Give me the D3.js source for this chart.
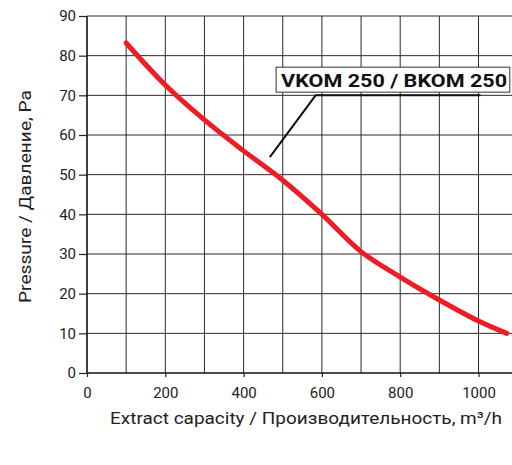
<!DOCTYPE html>
<html>
<head>
<meta charset="utf-8">
<script src="https://cdn.jsdelivr.net/npm/d3@7"></script>
<style>
  body { margin: 0; background: #fff; }
  svg text { font-family: Roboto, "Liberation Sans", Arial, sans-serif; }
</style>
</head>
<body>
<svg id="chart" width="512" height="465"></svg>
<script>
// data
var flow = [100, 200, 300, 400, 500, 600, 700, 800, 900, 1000, 1072];
var pressure = [83.2, 72.6, 63.8, 56, 48.6, 40, 30.6, 24.2, 18.4, 13.1, 10];
var xTicks = [0, 200, 400, 600, 800, 1000];
var yTicks = [0, 10, 20, 30, 40, 50, 60, 70, 80, 90];
var xGrid = [100, 200, 300, 400, 500, 600, 700, 800, 900, 1000];
var yGrid = [10, 20, 30, 40, 50, 60, 70, 80, 90];
var seriesName = "VKOM 250 / BKOM 250";
// leader line and label box, in data units
var leader = [[467, 54.4], [584, 70], [1005, 70]];
var labelBox = {x0: 483, x1: 1080, y0: 77.1, y1: 70.8};

var W = 512, H = 465;
var font = "Roboto, 'Liberation Sans', Arial, sans-serif";
var svg = d3.select("#chart");

var x = d3.scaleLinear().domain([0, 1000]).range([87, 478.5]);
var y = d3.scaleLinear().domain([0, 90]).range([373, 16]);

// grid
svg.append("g")
    .selectAll("line")
    .data(xGrid)
    .join("line")
    .attr("x1", d => x(d)).attr("x2", d => x(d))
    .attr("y1", y(0)).attr("y2", y(90))
    .attr("stroke", "#2a2a2a")
    .attr("stroke-width", 1);

svg.append("g")
    .selectAll("line")
    .data(yGrid)
    .join("line")
    .attr("x1", x(0)).attr("x2", W)
    .attr("y1", d => y(d)).attr("y2", d => y(d))
    .attr("stroke", "#2a2a2a")
    .attr("stroke-width", 1);

// axes
var yAxis = d3.axisLeft(y).tickValues(yTicks).tickSize(8).tickPadding(3).tickFormat(d3.format("d"));
var gy = svg.append("g")
    .attr("transform", `translate(${x(0)},0)`)
    .call(yAxis);
gy.select(".domain").remove();
gy.append("line")
    .attr("x1", 0).attr("x2", 0)
    .attr("y1", y(0)).attr("y2", y(90))
    .attr("stroke", "#111").attr("stroke-width", 1.6);

var xAxis = d3.axisBottom(x).tickValues(xTicks).tickSize(4).tickPadding(10).tickFormat(d3.format("d"));
var gx = svg.append("g")
    .attr("transform", `translate(0,${y(0)})`)
    .call(xAxis);
gx.select(".domain").remove();
gx.append("line")
    .attr("x1", x(0)).attr("x2", W)
    .attr("y1", 0).attr("y2", 0)
    .attr("stroke", "#111").attr("stroke-width", 1.6);

svg.selectAll(".tick text")
    .attr("font-size", 15)
    .attr("fill", "#222")
    .style("font-family", font);
svg.selectAll(".tick line").attr("stroke", "#222").attr("stroke-width", 1.2);

// curve
var pts = flow.map((f, i) => [f, pressure[i]]);
var line = d3.line()
    .x(d => x(d[0]))
    .y(d => y(d[1]))
    .curve(d3.curveCatmullRom.alpha(0.5));

svg.append("path")
    .datum(pts)
    .attr("d", line)
    .attr("fill", "none")
    .attr("stroke", "#ee1c25")
    .attr("stroke-width", 5)
    .attr("stroke-linecap", "round")
    .attr("stroke-linejoin", "round");

// leader line + label
svg.append("path")
    .datum(leader)
    .attr("d", d3.line().x(d => x(d[0])).y(d => y(d[1])))
    .attr("fill", "none")
    .attr("stroke", "#111")
    .attr("stroke-width", 2);

svg.append("rect")
    .attr("x", x(labelBox.x0))
    .attr("y", y(labelBox.y0))
    .attr("width", x(labelBox.x1) - x(labelBox.x0))
    .attr("height", y(labelBox.y1) - y(labelBox.y0))
    .attr("fill", "#fff")
    .attr("stroke", "#333")
    .attr("stroke-width", 1);

svg.append("text")
    .attr("x", x(labelBox.x0) + 5)
    .attr("y", y(labelBox.y1) - 5.5)
    .attr("font-size", 19)
    .attr("font-weight", "bold")
    .attr("fill", "#111")
    .style("font-family", font)
    .attr("textLength", 226)
    .attr("lengthAdjust", "spacingAndGlyphs")
    .text(seriesName);

// axis titles
svg.append("text")
    .attr("x", 110)
    .attr("y", 424)
    .attr("font-size", 17)
    .attr("fill", "#222")
    .style("font-family", font)
    .attr("textLength", 392)
    .attr("lengthAdjust", "spacingAndGlyphs")
    .text("Extract capacity / Производительность, m³/h");

svg.append("text")
    .attr("transform", "translate(31,196.5) rotate(-90)")
    .attr("text-anchor", "middle")
    .attr("font-size", 17)
    .attr("fill", "#222")
    .style("font-family", font)
    .attr("textLength", 213)
    .attr("lengthAdjust", "spacingAndGlyphs")
    .text("Pressure / Давление, Pa");
</script>
</body>
</html>
